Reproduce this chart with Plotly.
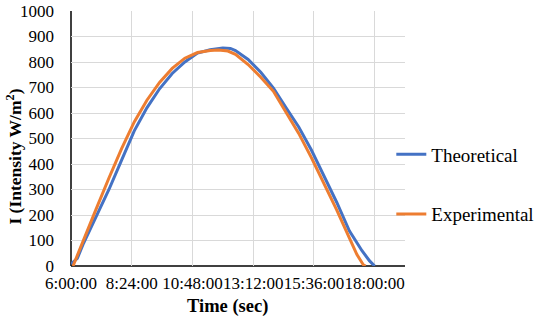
import plotly.graph_objects as go

theo_hours = [6.0, 6.25, 6.5, 7.0, 7.5, 8.0, 8.5, 9.0, 9.5, 10.0, 10.5, 11.0, 11.5, 12.0, 12.3, 12.5,
              13.0, 13.5, 14.0, 14.5, 15.0, 15.5, 16.0, 16.5, 17.0, 17.5, 17.8, 18.0]
theo_vals = [8, 30, 90, 195, 300, 415, 530, 620, 695, 755, 800, 835, 848, 855, 853, 845,
             810, 760, 698, 620, 545, 455, 355, 250, 138, 60, 20, 0]

exp_hours = [6.08, 6.5, 7.0, 7.5, 8.0, 8.5, 9.0, 9.5, 10.0, 10.5, 11.0, 11.5, 11.83, 12.2, 12.5,
             13.0, 13.5, 14.0, 14.5, 15.0, 15.5, 16.0, 16.5, 17.0, 17.3, 17.55, 17.64]
exp_vals = [0, 105, 225, 345, 460, 565, 650, 720, 775, 815, 837, 845, 847, 843, 830,
            790, 740, 685, 605, 520, 425, 325, 220, 110, 45, 5, 0]

tick_hours = [6.0, 8.4, 10.8, 13.2, 15.6, 18.0]
tick_labels = ["6:00:00", "8:24:00", "10:48:00", "13:12:00", "15:36:00", "18:00:00"]
y_ticks = [0, 100, 200, 300, 400, 500, 600, 700, 800, 900, 1000]

font = "Liberation Serif, Times New Roman, serif"
fig = go.Figure()
fig.add_trace(go.Scatter(x=theo_hours, y=theo_vals, mode="lines", name="Theoretical",
                         line=dict(color="#4472C4", width=3), legendgroup="a"))
fig.add_trace(go.Scatter(x=exp_hours, y=exp_vals, mode="lines", name="Experimental",
                         line=dict(color="#ED7D31", width=3), legendgroup="b"))

fig.update_layout(
    width=550, height=324,
    margin=dict(l=71, r=138, t=11, b=58),
    paper_bgcolor="white", plot_bgcolor="white",
    font=dict(family=font, size=17, color="black"),
    showlegend=True,
    legend=dict(x=0.959, xanchor="left", y=0.32, yanchor="middle", tracegroupgap=32,
                font=dict(size=19, family=font, color="black"), bgcolor="rgba(0,0,0,0)"),
    xaxis=dict(range=[6.0, 19.2], tickvals=tick_hours, ticktext=tick_labels, tickangle=0,
               automargin=False,
               showgrid=True, gridcolor="#d9d9d9", gridwidth=1.3, zeroline=False,
               showline=False, ticks="", tickfont=dict(size=17, family=font, color="black"),
               ticklabelstandoff=5),
    yaxis=dict(range=[0, 1000], tickvals=y_ticks, showgrid=True, gridcolor="#d9d9d9", gridwidth=1.3,
               automargin=False,
               zeroline=False, showline=False, ticks="", tickfont=dict(size=17, family=font, color="black"),
               ticklabelstandoff=16),
    annotations=[
        dict(text="<b>Time (sec)</b>", xref="paper", yref="paper", x=0.469, y=-0.157,
             xanchor="center", yanchor="middle", showarrow=False,
             font=dict(size=18.5, family=font, color="black")),
        dict(text="<b>I (Intensity W/m<sup>2</sup>)</b>", xref="paper", yref="paper",
             x=-0.17, y=0.43, textangle=-90,
             xanchor="center", yanchor="middle", showarrow=False,
             font=dict(size=17.5, family=font, color="black")),
    ],
    shapes=[
        dict(type="line", xref="paper", yref="paper", x0=0, x1=1, y0=0, y1=0,
             line=dict(color="black", width=1.5), layer="below"),
        dict(type="line", xref="paper", yref="paper", x0=0, x1=0, y0=0, y1=1,
             line=dict(color="black", width=1.5), layer="below"),
    ],
)
fig.write_html("out.html", config={"displayModeBar": False},
               post_script="document.body.style.margin='0';")
